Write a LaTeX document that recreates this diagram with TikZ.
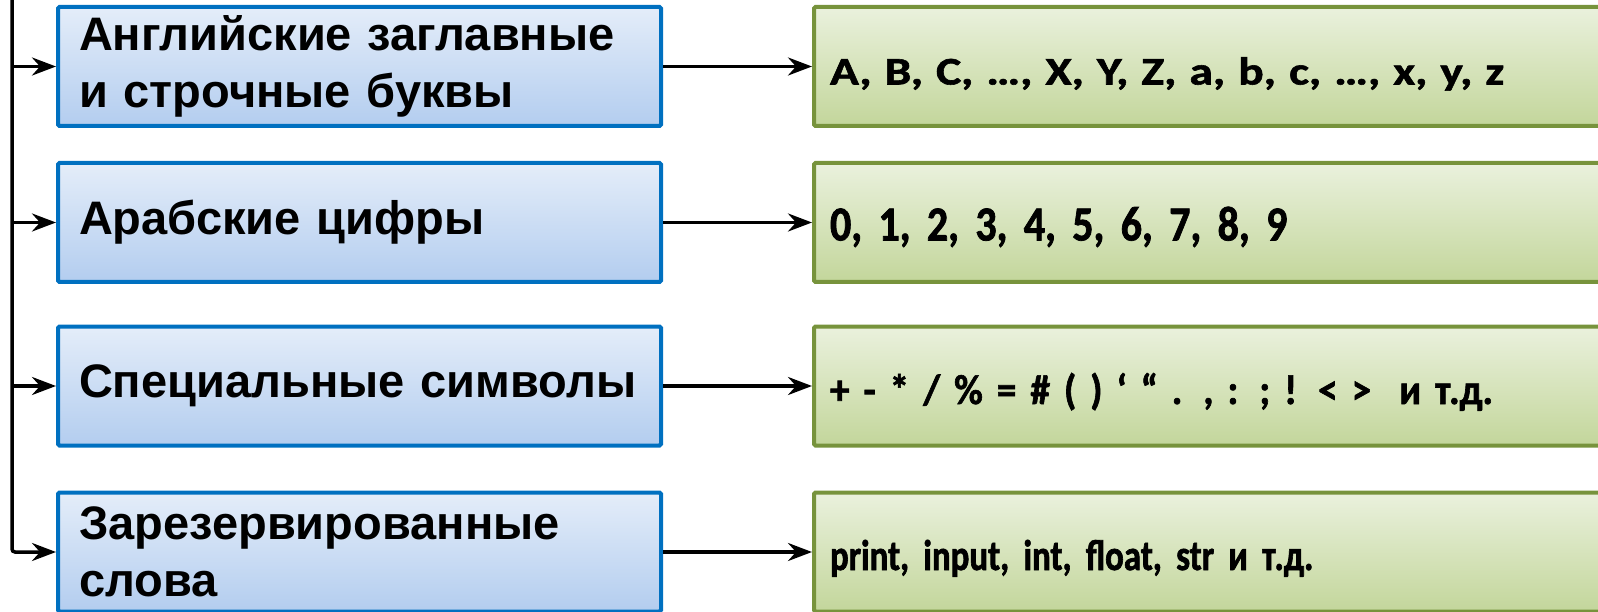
\documentclass[tikz,border=0pt]{standalone}
\usepackage{fontspec}
\setmainfont{Liberation Sans}
\usetikzlibrary{arrows.meta}
\definecolor{blueedge}{HTML}{0070C0}
\definecolor{bluetop}{HTML}{E4EDF9}
\definecolor{bluebot}{HTML}{B3CDEF}
\definecolor{greenedge}{HTML}{77933C}
\definecolor{greentop}{HTML}{EAF1DD}
\definecolor{greenbot}{HTML}{C3D69B}
\newcommand{\greenfont}[2]{\fontspec{Carlito}[FakeStretch=#2,FakeBold=1.5]\fontsize{#1}{#1}\selectfont\bfseries}

\begin{document}
\begin{tikzpicture}[x=1pt,y=-1pt]

\tikzset{kind/.style = {rectangle,draw=blueedge,line width=4pt,top color=bluetop,bottom color=bluebot,rounded corners=1.5pt,minimum width=603pt,minimum height=119pt,inner xsep=21pt,text width=561pt,align=left,font=\fontsize{47}{57}\selectfont\bfseries}}
\tikzset{sample/.style 2 args = {rectangle,draw=greenedge,line width=4pt,top color=greentop,bottom color=greenbot,rounded corners=1.5pt,minimum width=796pt,minimum height=119pt,inner xsep=16pt,text width=764pt,text height=36pt,text depth=0pt,align=left,font=\greenfont{#1}{#2}}}
\tikzset{edge/.style = {line width=3.5pt,-{Stealth[length=24pt,width=18pt,inset=8pt]}}}

\useasboundingbox (0,0) rectangle (1598,612);

\node[kind] (letters) at (359.5,66.5) {Английские заглавные\\и строчные буквы};
\node[kind] (digits) at (359.5,222.5) {Арабские цифры};
\node[kind] (special) at (359.5,386) {Специальные символы};
\node[kind] (reserved) at (359.5,552) {Зарезервированные\\слова};

\node[sample={39}{1.22}] (latin) at (1212,66.5) {A, B, C, …, X, Y, Z, a, b, c, …, x, y, z};
\node[sample={49}{0.857}] (numerals) at (1212,222.5) {0, 1, 2, 3, 4, 5, 6, 7, 8, 9};
\node[sample={42}{0.937}] (symbols) at (1212,386) {+ - * / \% = \# ( ) ‘ “ . , : ; ! < > \ и т.д.};
\node[sample={43}{0.81}] (keywords) at (1212,552) {print, input, int, float, str и т.д.};

\coordinate (trunk) at (12,-5);

%edges
\draw[edge,rounded corners=3pt] (trunk) |- (reserved.west);
\draw[edge] (trunk |- letters.west) -- (letters.west);
\draw[edge] (trunk |- digits.west) -- (digits.west);
\draw[edge] (trunk |- special.west) -- (special.west);
\draw[edge] (letters) -- (latin);
\draw[edge] (digits) -- (numerals);
\draw[edge] (special) -- (symbols);
\draw[edge] (reserved) -- (keywords);
\end{tikzpicture}
\end{document}
